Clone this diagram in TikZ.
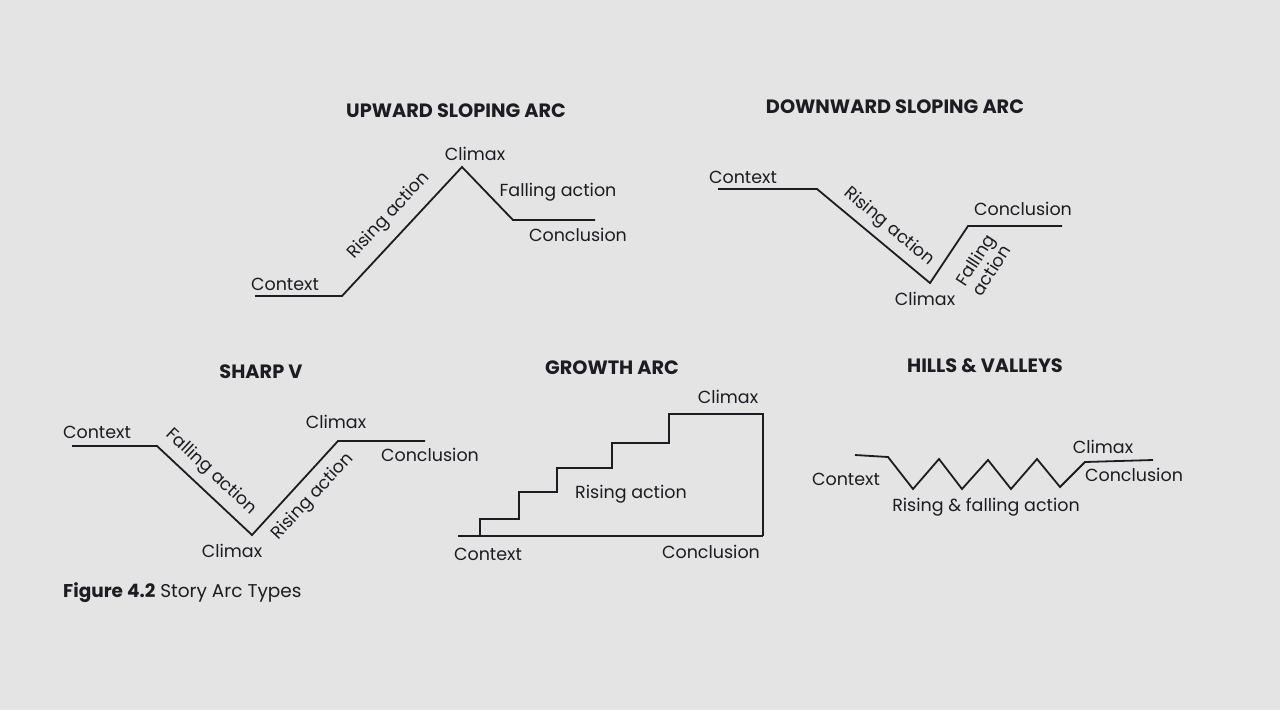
\documentclass[tikz,border=0pt]{standalone}
\usepackage{fontspec}
\setmainfont{Poppins}
\usetikzlibrary{calc}

\definecolor{paper}{RGB}{229,228,229}
\definecolor{ink}{RGB}{28,28,34}

\tikzset{
  arcline/.style={line width=1.8pt, draw=ink, line join=miter},
  lbl/.style={font=\fontsize{17.5}{19}\selectfont, text=ink, inner sep=0pt},
  ttl/.style={font=\bfseries\fontsize{19.3}{21}\selectfont, text=ink, inner sep=0pt},
}

\begin{document}
\begin{tikzpicture}[x=1pt, y=-1pt]

\fill[paper] (0,0) rectangle (1280,710);
\useasboundingbox (0,0) rectangle (1280,710);

% Upward sloping arc
\node[ttl] (upT) at (456,111) {UPWARD SLOPING ARC};
\coordinate (up0) at (255,296);
\coordinate (up1) at (342,296);
\coordinate (up2) at (462,167);
\coordinate (up3) at (513,220);
\coordinate (up4) at (595,220);
\draw[arcline] (up0) -- (up1) -- (up2) -- (up3) -- (up4);
\node[lbl] (upCtx) at (285,284) {Context};
\node[lbl, rotate=47] (upRise) at (389,216) {Rising action};
\node[lbl] (upClx) at (475,154) {Climax};
\node[lbl] (upFall) at (558,192) {Falling action};
\node[lbl] (upCon) at (578,235) {Conclusion};

% Downward sloping arc
\node[ttl] (dnT) at (895,107) {DOWNWARD SLOPING ARC};
\coordinate (dn0) at (718,189);
\coordinate (dn1) at (817,189);
\coordinate (dn2) at (930,283);
\coordinate (dn3) at (968,226);
\coordinate (dn4) at (1062,226);
\draw[arcline] (dn0) -- (dn1) -- (dn2) -- (dn3) -- (dn4);
\node[lbl] (dnCtx) at (743,177) {Context};
\node[lbl, rotate=-40] (dnRise) at (889,227) {Rising action};
\node[lbl] (dnClx) at (925,299) {Climax};
\node[lbl, rotate=57, align=center, font=\fontsize{17.5}{17}\selectfont] (dnFall) at (983,265) {Falling\\action};
\node[lbl] (dnCon) at (1023,209) {Conclusion};

% Sharp V
\node[ttl] (svT) at (261,372) {SHARP V};
\coordinate (sv0) at (72,446);
\coordinate (sv1) at (157,446);
\coordinate (sv2) at (252,535);
\coordinate (sv3) at (338,441);
\coordinate (sv4) at (425,441);
\draw[arcline] (sv0) -- (sv1) -- (sv2) -- (sv3) -- (sv4);
\node[lbl] (svCtx) at (97,432) {Context};
\node[lbl, rotate=-43] (svFall) at (211,472) {Falling action};
\node[lbl] (svLow) at (232,551) {Climax};
\node[lbl, rotate=47] (svRise) at (313,497) {Rising action};
\node[lbl] (svHigh) at (336,422) {Climax};
\node[lbl] (svCon) at (430,455) {Conclusion};

% Growth arc
\node[ttl] (grT) at (612,368) {GROWTH ARC};
\coordinate (gr0) at (458,536);
\coordinate (gr1) at (480,536);
\coordinate (gr9) at (763,536);
\draw[arcline] (gr0) -- (gr9);
\draw[arcline] (gr1) |- (519,519) |- (557,492) |- (612,468) |- (669,443)
  |- (763,414) -- (gr9);
\node[lbl] (grCtx) at (488,554) {Context};
\node[lbl] (grRise) at (631,494) {Rising action};
\node[lbl] (grClx) at (728,397) {Climax};
\node[lbl] (grCon) at (711,552) {Conclusion};

% Hills and valleys
\node[ttl] (hvT) at (985,366) {HILLS \& VALLEYS};
\coordinate (hv0) at (855,455);
\coordinate (hv1) at (888,457);
\coordinate (hv9) at (1085,462);
\coordinate (hv10) at (1153,460);
\draw[arcline] (hv0) -- (hv1) -- (913,489) -- (939,459) -- (962,489)
  -- (988,460) -- (1011,489) -- (1037,459) -- (1060,487) -- (hv9) -- (hv10);
\node[lbl] (hvCtx) at (846,479) {Context};
\node[lbl] (hvRF) at (986,507) {Rising \& falling action};
\node[lbl] (hvClx) at (1103,447) {Climax};
\node[lbl] (hvCon) at (1134,475) {Conclusion};

% Caption
\node[lbl, anchor=west, font=\fontsize{18.5}{20}\selectfont] (cap) at (63,593)
  {\textbf{Figure 4.2} Story Arc Types};

\end{tikzpicture}
\end{document}
